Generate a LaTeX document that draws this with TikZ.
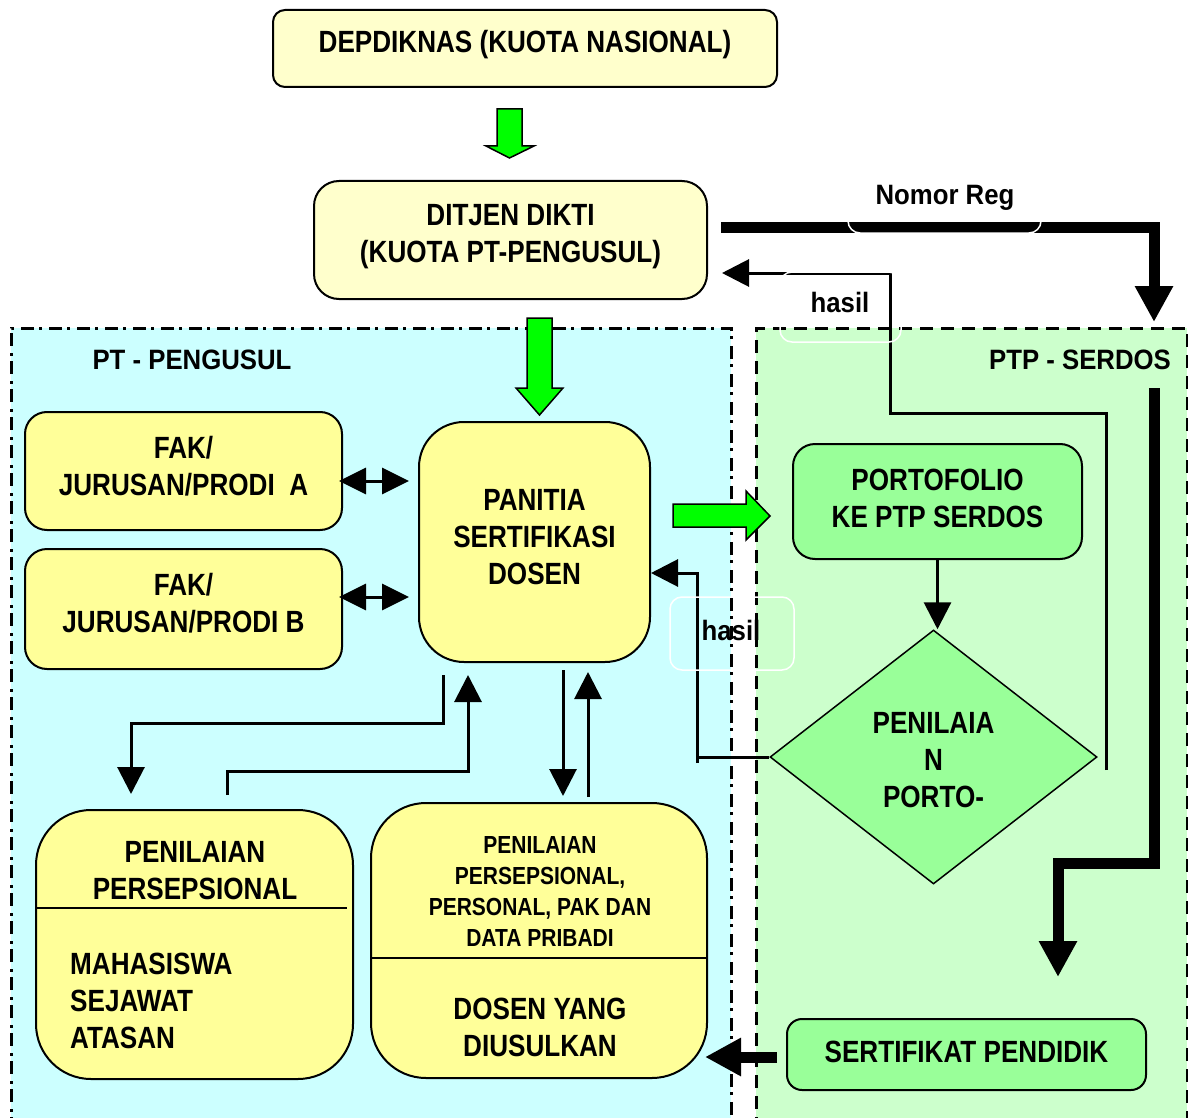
\documentclass[tikz,border=0pt]{standalone}
\usepackage{fontspec}
\setmainfont{Liberation Sans}[FakeStretch=0.85]
\newfontfamily\lblfam{Liberation Sans}[FakeStretch=0.92]
\usetikzlibrary{arrows.meta,shapes.geometric}
\definecolor{ylight}{HTML}{FFFFCC}
\definecolor{ybox}{HTML}{FFFF99}
\definecolor{gbox}{HTML}{99FF99}
\definecolor{gbright}{HTML}{00FF00}
\definecolor{cyanbg}{HTML}{CCFFFF}
\definecolor{greenbg}{HTML}{CCFFCC}
\newcommand\dpt[1]{\rule[-#1]{0pt}{0pt}}
\newcommand\htp[1]{\rule{0pt}{#1}}
\tikzset{
  bigtxt/.style={font=\bfseries\fontsize{30.7pt}{37pt}\selectfont},
  smalltxt/.style={font=\bfseries\fontsize{24.7pt}{31pt}\selectfont},
  lbltxt/.style={font=\lblfam\bfseries\fontsize{28pt}{33pt}\selectfont},
  box/.style={draw=black, line width=2pt, align=center, inner sep=0pt, bigtxt},
  conn/.style={line width=3pt, -{Triangle[length=27pt,width=27pt]}},
  dconn/.style={line width=3pt, {Triangle[length=27pt,width=26pt]}-{Triangle[length=27pt,width=26pt]}},
  plainconn/.style={line width=3pt},
  fatconn/.style={line width=11pt, line join=miter, -{Triangle[length=36pt,width=36pt]}},
  blockarrow/.style={draw=black, line width=1.5pt, fill=gbright, line join=miter},
  ghost/.style={draw=white, line width=1.5pt, rounded corners=12pt},
  ptborder/.style={line width=3pt, dash pattern=on 13pt off 5pt on 3pt off 7pt},
  ptpborder/.style={line width=3pt, dash pattern=on 13pt off 8pt},
  divider/.style={line width=2.5pt},
}
\begin{document}
\begin{tikzpicture}[x=1pt,y=-1pt]
\useasboundingbox (0,0) rectangle (1188,1118);
\clip (0,0) rectangle (1188,1118);
% regions
\fill[cyanbg] (11,328) rectangle (731,1130);
\fill[greenbg] (756,328) rectangle (1187,1130);
\draw[ptborder] (11,1130) -- (11,328) -- (731,328) -- (731,1130);
\draw[ptpborder] (756,1130) -- (756,328) -- (1187,328) -- (1187,1130);
\node[lbltxt] (lblpt) at (192,360) {PT - PENGUSUL};
\node[lbltxt] (lblptp) at (1080,360) {PTP - SERDOS};

% boxes
\node[box, fill=ylight, minimum width=504pt, minimum height=77pt, rounded corners=12pt] (dep) at (525,48.5) {DEPDIKNAS (KUOTA NASIONAL)\dpt{13.5pt}};
\node[box, fill=ylight, minimum width=393pt, minimum height=118pt, rounded corners=25pt] (ditjen) at (510.5,240) {DITJEN DIKTI\\(KUOTA PT-PENGUSUL)\dpt{13pt}};
\node[box, fill=ybox, minimum width=317pt, minimum height=118pt, rounded corners=22pt] (fakA) at (183.5,471) {FAK/\\JURUSAN/PRODI~~A\dpt{11pt}};
\node[box, fill=ybox, minimum width=317pt, minimum height=120pt, rounded corners=22pt] (fakB) at (183.5,609) {FAK/\\JURUSAN/PRODI B\dpt{13pt}};
\node[box, fill=ybox, minimum width=231pt, minimum height=240pt, rounded corners=45pt] (pan) at (534.5,542) {PANITIA\\SERTIFIKASI\\DOSEN\dpt{10pt}};
\node[box, fill=gbox, minimum width=289pt, minimum height=115pt, rounded corners=22pt] (port) at (937.5,501.5) {PORTOFOLIO\\KE PTP SERDOS\dpt{7pt}};
\node[draw=black, line width=1.5pt, fill=gbox, shape=diamond, minimum width=327pt, minimum height=254pt, inner sep=0pt, align=center, bigtxt] (dia) at (933.5,757) {\htp{27pt}PENILAIA\\N\\PORTO-};
\node[box, fill=gbox, minimum width=359pt, minimum height=71pt, rounded corners=15pt] (sert) at (966.5,1054.5) {SERTIFIKAT PENDIDIK\dpt{6pt}};

% bottom left split box
\node[box, fill=ybox, minimum width=317pt, minimum height=269pt, rounded corners=55pt] (pb1) at (194.5,944.5) {};
\node[bigtxt, align=center, inner sep=0pt] (pb1top) at (195,870.5) {PENILAIAN\\PERSEPSIONAL};
\draw[divider] (pb1.west |- 0,908) -- (347,908);
\node[bigtxt, align=left, anchor=west, inner sep=0pt] (pb1bot) at (70,1001) {MAHASISWA\\SEJAWAT\\ATASAN};

% bottom right split box
\node[box, fill=ybox, minimum width=336pt, minimum height=275pt, rounded corners=55pt] (pb2) at (539,940.5) {};
\node[smalltxt, align=center, inner sep=0pt] (pb2top) at (540,891) {PENILAIAN\\PERSEPSIONAL,\\PERSONAL, PAK DAN\\DATA PRIBADI};
\draw[divider] (pb2.west |- 0,958) -- (pb2.east |- 0,958);
\node[bigtxt, align=center, inner sep=0pt] (pb2bot) at (540,1027) {DOSEN YANG\\DIUSULKAN};

% green block arrows
\draw[blockarrow] (497,109) -- (522,109) -- (522,146) -- (534,146) -- (509.5,158) -- (486,146) -- (497,146) -- cycle;
\draw[blockarrow] (527,318) -- (552,318) -- (552,388) -- (563,388) -- (539.5,415) -- (516,388) -- (527,388) -- cycle;
\draw[blockarrow] (673,504) -- (746,504) -- (746,491) -- (770,516) -- (746,540) -- (746,527) -- (673,527) -- cycle;

% double arrows FAK <-> PANITIA
\coordinate (pa) at (409,481);
\coordinate (pb) at (409,597);
\draw[dconn] (339,481) -- (pa);
\draw[dconn] (339,597) -- (pb);

% PANITIA <-> bottom left
\coordinate (s1) at (443,675);
\coordinate (e1) at (131,794);
\draw[conn] (s1) -- (443,723) -- (131,723) -- (e1);
\coordinate (s2) at (227,795);
\coordinate (e2) at (468,675);
\draw[conn] (s2) -- (227,771) -- (468,771) -- (e2);

% PANITIA <-> bottom right
\coordinate (s3) at (563,670);
\coordinate (e3) at (563,796);
\draw[conn] (s3) -- (e3);
\coordinate (s4) at (588,797);
\coordinate (e4) at (588,672);
\draw[conn] (s4) -- (e4);

% PORTOFOLIO -> diamond
\draw[conn] (port.south) -- (port.south |- dia.north);

% diamond -> PANITIA (hasil)
\coordinate (h2e) at (651,573);
\draw[plainconn] (697,763) -- (697,757) -- (dia.west);
\draw[conn] (697,757) -- (697,573) -- (h2e);

% diamond side -> DITJEN (hasil)
\coordinate (h1s) at (1106,770);
\coordinate (h1e) at (722,273);
\draw[conn] (h1s) -- (1106,413) -- (890,413) -- (890,273) -- (h1e);

% Nomor Reg
\coordinate (nrs) at (721,227);
\coordinate (nre) at (1154,322);
\draw[fatconn] (nrs) -- (1154,227) -- (nre);

% PTP down to sertifikat
\coordinate (pds) at (1154,388);
\coordinate (pde) at (1058,977);
\draw[fatconn] (pds) -- (1154,863) -- (1058,863) -- (pde);

% sertifikat -> dosen
\coordinate (sds) at (777,1057);
\coordinate (sde) at (705,1057);
\draw[fatconn] (sds) -- (sde);

% ghost label frames
\draw[ghost] (848,160) rectangle (1041,233);
\draw[ghost] (780,272) rectangle (901,342);
\draw[ghost] (670,597) rectangle (794,670);

% labels
\node[lbltxt] (lblnr) at (945,198) {Nomor Reg};
\node[lbltxt] (lblh1) at (840,302) {hasil};
\node[lbltxt] (lblh2) at (731,630) {hasil};
\end{tikzpicture}
\end{document}
